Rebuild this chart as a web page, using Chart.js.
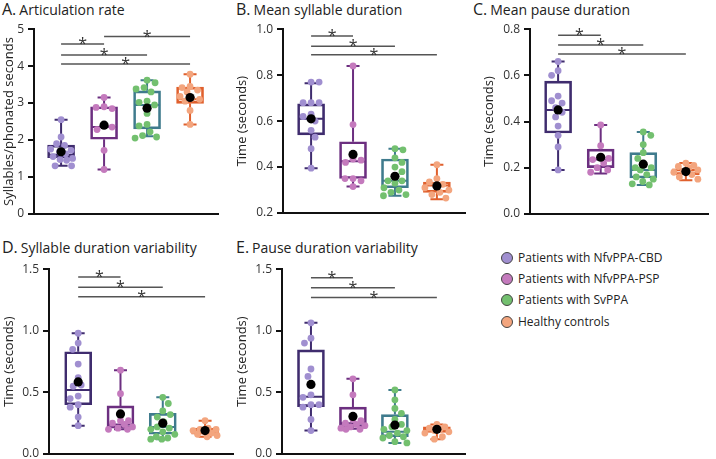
<!DOCTYPE html>
<html><head><meta charset="utf-8">
<script src="https://cdn.jsdelivr.net/npm/chart.js@4.4.1/dist/chart.umd.min.js"></script>
<style>
body{margin:0;background:#fff;}
#wrap{position:relative;width:716px;height:459px;overflow:hidden;font-family:'Open Sans',sans-serif;color:#222;}
canvas{position:absolute;}
.ttl{position:absolute;white-space:nowrap;font-size:14px;line-height:20px;}
.ttl .big{font-size:16px;margin-right:3px;}
.leg{position:absolute;left:501px;font-size:12px;line-height:16px;white-space:nowrap;}
.leg i{display:inline-block;width:10px;height:10px;border-radius:50%;border:1px solid #444;vertical-align:-2px;margin-right:5px;}
</style></head>
<body><div id="wrap">
<div class="ttl" style="left:2px;top:-1px"><span class="big">A.</span>Articulation rate</div>
<div class="ttl" style="left:236px;top:-1px"><span class="big">B.</span>Mean syllable duration</div>
<div class="ttl" style="left:473px;top:-1px"><span class="big">C.</span>Mean pause duration</div>
<div class="ttl" style="left:2px;top:237px"><span class="big">D.</span>Syllable duration variability</div>
<div class="ttl" style="left:236px;top:237px"><span class="big">E.</span>Pause duration variability</div>
<div id="legend"></div>
<canvas id="cA"></canvas><canvas id="cB"></canvas><canvas id="cC"></canvas><canvas id="cD"></canvas><canvas id="cE"></canvas>
</div>
<script>
// ---------- data ----------
const groupNames = ['Patients with NfvPPA-CBD','Patients with NfvPPA-PSP','Patients with SvPPA','Healthy controls'];
const pointColors = ['#a08fd0','#c47abd','#73c06f','#f3a57e'];
const boxColors = ['#3f2c6e','#6c2f80','#3f7b8d','#e0602d'];

// A. Articulation rate
const artPoints = [
  [2.55,2.08,1.9,1.85,1.75,1.72,1.68,1.62,1.55,1.5,1.47,1.45,1.3,1.3],
  [3.15,2.9,2.88,2.85,2.4,2.35,2.28,1.72,1.2],
  [3.62,3.55,3.42,3.38,3.3,3.05,3.02,2.95,2.72,2.42,2.38,2.22,2.12,2.08,2.05],
  [3.78,3.45,3.42,3.35,3.3,3.18,3.12,3.1,3.05,2.8,2.42]
];
const artStats = [[1.3,1.52,1.6,1.86,2.55],[1.2,2.02,2.35,2.9,3.15],[2.1,2.3,2.95,3.33,3.62],[2.42,2.99,3.1,3.43,3.78]];
const artMeans = [1.68,2.4,2.86,3.15];
const artSig = [[1,2,4.6],[2,4,4.8],[1,3,4.3],[1,4,4.06]];
const artTicks = [0,1,2,3,4,5];

// B. Mean syllable duration
const sylPoints = [
  [0.77,0.77,0.68,0.68,0.68,0.63,0.62,0.6,0.56,0.53,0.48,0.395],
  [0.84,0.585,0.435,0.43,0.42,0.35,0.35,0.34,0.315],
  [0.48,0.475,0.44,0.42,0.4,0.38,0.36,0.34,0.34,0.33,0.31,0.3,0.29,0.28,0.275],
  [0.41,0.35,0.335,0.325,0.32,0.31,0.3,0.29,0.28,0.265]
];
const sylStats = [[0.395,0.54,0.61,0.675,0.765],[0.315,0.35,0.425,0.51,0.84],[0.275,0.31,0.34,0.435,0.48],[0.26,0.29,0.32,0.335,0.41]];
const sylMeans = [0.61,0.455,0.36,0.318];
const sylSig = [[1,2,0.97],[1,3,0.926],[1,4,0.889]];
const sylTicks = [0.2,0.4,0.6,0.8,1.0];

// C. Mean pause duration
const pauPoints = [
  [0.66,0.62,0.6,0.51,0.49,0.48,0.46,0.44,0.42,0.38,0.34,0.29,0.19],
  [0.385,0.295,0.245,0.24,0.235,0.22,0.2,0.19,0.18],
  [0.355,0.34,0.3,0.265,0.24,0.21,0.2,0.2,0.19,0.17,0.16,0.15,0.14,0.13,0.125],
  [0.22,0.21,0.205,0.2,0.19,0.185,0.18,0.17,0.16,0.15]
];
const pauStats = [[0.19,0.35,0.45,0.575,0.66],[0.175,0.2,0.235,0.28,0.385],[0.125,0.155,0.19,0.265,0.355],[0.145,0.17,0.19,0.195,0.22]];
const pauMeans = [0.45,0.245,0.215,0.183];
const pauSig = [[1,2,0.774],[1,3,0.731],[1,4,0.693]];
const pauTicks = [0.0,0.2,0.4,0.6,0.8];

// D. Syllable duration variability
const svarPoints = [
  [0.98,0.9,0.85,0.73,0.62,0.56,0.55,0.47,0.45,0.4,0.38,0.3,0.23],
  [0.68,0.49,0.27,0.27,0.25,0.24,0.22,0.21,0.2,0.2],
  [0.46,0.41,0.35,0.32,0.3,0.26,0.22,0.21,0.2,0.18,0.16,0.14,0.13,0.12,0.12],
  [0.27,0.21,0.2,0.2,0.19,0.18,0.17,0.16,0.15,0.14]
];
const svarStats = [[0.23,0.4,0.52,0.83,0.98],[0.2,0.21,0.24,0.39,0.68],[0.12,0.16,0.22,0.33,0.46],[0.14,0.16,0.19,0.21,0.27]];
const svarMeans = [0.585,0.325,0.25,0.19];
const svarSig = [[1,2,1.437],[1,3,1.354],[1,4,1.276]];
const svarTicks = [0.0,0.5,1.0,1.5];

// E. Pause duration variability
const pvarPoints = [
  [1.065,0.94,0.9,0.69,0.63,0.48,0.46,0.4,0.4,0.38,0.28,0.19],
  [0.61,0.48,0.28,0.27,0.25,0.24,0.23,0.22,0.21,0.2,0.2],
  [0.52,0.44,0.37,0.33,0.28,0.24,0.22,0.2,0.19,0.17,0.15,0.14,0.13,0.1,0.09],
  [0.24,0.22,0.21,0.2,0.19,0.18,0.17,0.14,0.12]
];
const pvarStats = [[0.19,0.385,0.465,0.845,1.065],[0.205,0.22,0.25,0.38,0.61],[0.09,0.14,0.18,0.32,0.52],[0.12,0.175,0.2,0.22,0.24]];
const pvarMeans = [0.565,0.305,0.235,0.2];
const pvarSig = [[1,2,1.43],[1,3,1.35],[1,4,1.27]];
const pvarTicks = [0.0,0.5,1.0,1.5];

// ---------- layout ----------
const FONT = "'Open Sans', sans-serif";
const panels = [
  {id:'cA',left:0,top:18,w:226,h:207,axisW:34,pad:{top:10,right:8,bottom:10,left:0},xMin:0.37,xMax:4.65,yMin:0,yMax:5,ticks:artTicks,dec:0,yTitle:'Syllables/phonated seconds',points:artPoints,stats:artStats,means:artMeans,sig:artSig},
  {id:'cB',left:233,top:18,w:240,h:207,axisW:50,pad:{top:10,right:8,bottom:12,left:0},xMin:0.33,xMax:4.67,yMin:0.2,yMax:1.0,ticks:sylTicks,dec:1,yTitle:'Time (seconds)',points:sylPoints,stats:sylStats,means:sylMeans,sig:sylSig},
  {id:'cC',left:480,top:18,w:236,h:207,axisW:50,pad:{top:10,right:8,bottom:10,left:0},xMin:0.34,xMax:4.52,yMin:0,yMax:0.8,ticks:pauTicks,dec:1,yTitle:'Time (seconds)',points:pauPoints,stats:pauStats,means:pauMeans,sig:pauSig},
  {id:'cD',left:0,top:258,w:240,h:210,axisW:49,pad:{top:10,right:7,bottom:14,left:0},xMin:0.31,xMax:4.66,yMin:0,yMax:1.5,ticks:svarTicks,dec:1,yTitle:'Time (seconds)',points:svarPoints,stats:svarStats,means:svarMeans,sig:svarSig},
  {id:'cE',left:233,top:258,w:240,h:210,axisW:49,pad:{top:10,right:8,bottom:14,left:0},xMin:0.31,xMax:4.67,yMin:0,yMax:1.5,ticks:pvarTicks,dec:1,yTitle:'Time (seconds)',points:pvarPoints,stats:pvarStats,means:pvarMeans,sig:pvarSig}
];

// deterministic beeswarm placement, limited to the box width
function swarm(values, group, pxPerY, pxPerX, minDist, limit){
  const placed = [], out = [];
  const sorted = values.slice().sort((a,b)=>b-a);
  sorted.forEach((v,n)=>{
    const cands = [0];
    for(let s=0.5; s<=limit; s+=0.5){ if(n%2){cands.push(s,-s);} else {cands.push(-s,s);} }
    let best = null, bestScore = -1, bestDx = 0;
    for(const dx of cands){
      let md = Infinity;
      placed.forEach(q=>{const a=dx-q.dx, b=(v-q.v)*pxPerY; md = Math.min(md, Math.sqrt(a*a+b*b));});
      if(md >= minDist){ best = dx; break; }
      if(md > bestScore){ bestScore = md; bestDx = dx; }
    }
    if(best===null) best = bestDx;
    placed.push({v,dx:best});
    out.push({x: group + best/pxPerX, y: v});
  });
  return out;
}

const boxPlugin = {
  id:'boxExtras',
  afterDatasetDraw(chart, args){
    const ds = chart.data.datasets[args.index];
    if(!ds.isBox) return;
    const ctx = chart.ctx, x = chart.scales.x, y = chart.scales.y;
    ds.stats.forEach((s,i)=>{
      const cx = x.getPixelForValue(i+1);
      const [lo,q1,md,q3,hi] = s.map(v=>y.getPixelForValue(v));
      ctx.save();
      ctx.strokeStyle = boxColors[i]; ctx.lineWidth = 2;
      ctx.beginPath();
      ctx.moveTo(cx,q3); ctx.lineTo(cx,hi);
      ctx.moveTo(cx,q1); ctx.lineTo(cx,lo);
      ctx.moveTo(cx-6.5,hi); ctx.lineTo(cx+6.5,hi);
      ctx.moveTo(cx-6.5,lo); ctx.lineTo(cx+6.5,lo);
      ctx.moveTo(cx-13,md); ctx.lineTo(cx+13,md);
      ctx.stroke();
      ctx.restore();
    });
  }
};

const sigPlugin = {
  id:'sig',
  afterDatasetsDraw(chart){
    const sig = chart.options.plugins.sig.pairs;
    const ctx = chart.ctx, x = chart.scales.x, y = chart.scales.y;
    ctx.save();
    sig.forEach(([a,b,v])=>{
      const x1 = x.getPixelForValue(a), x2 = x.getPixelForValue(b), yy = y.getPixelForValue(v);
      ctx.strokeStyle = '#555'; ctx.lineWidth = 1.5;
      ctx.beginPath(); ctx.moveTo(x1,yy); ctx.lineTo(x2,yy); ctx.stroke();
      ctx.fillStyle = '#333'; ctx.font = '16px ' + FONT; ctx.textAlign = 'center'; ctx.textBaseline = 'alphabetic';
      ctx.fillText('*', (x1+x2)/2, yy + 5);
    });
    ctx.restore();
  }
};

panels.forEach(p=>{
  const cv = document.getElementById(p.id);
  cv.width = p.w; cv.height = p.h;
  cv.style.left = p.left+'px'; cv.style.top = p.top+'px';
  const plotH = p.h - p.pad.top - p.pad.bottom;
  const plotW = p.w - p.axisW - p.pad.right;
  const pxPerY = plotH/(p.yMax-p.yMin), pxPerX = plotW/(p.xMax-p.xMin);
  const datasets = [];
  datasets.push({type:'scatter', data:p.means.map((m,i)=>({x:i+1,y:m})), pointRadius:4.6, pointBackgroundColor:'#000', pointBorderWidth:0, order:0, clip:false});
  p.points.forEach((vals,g)=>{
    datasets.push({type:'scatter', data:swarm(vals,g+1,pxPerY,pxPerX,8,12), pointRadius:3.4, pointBackgroundColor:pointColors[g], pointBorderWidth:0, order:1, clip:false});
  });
  datasets.push({type:'bar', isBox:true, stats:p.stats, data:p.stats.map((s,i)=>({x:i+1,y:[s[1],s[3]]})),
    backgroundColor:'rgba(255,255,255,0)', borderColor:boxColors, borderWidth:2, borderSkipped:false, barThickness:27, order:2, clip:false});
  new Chart(cv, {
    type:'scatter',
    data:{datasets},
    plugins:[boxPlugin, sigPlugin],
    options:{
      responsive:false, animation:false, events:[],
      layout:{padding:p.pad},
      plugins:{legend:{display:false}, tooltip:{enabled:false}, sig:{pairs:p.sig}},
      scales:{
        x:{type:'linear', min:p.xMin, max:p.xMax, offset:false,
           ticks:{display:false}, grid:{display:true, drawOnChartArea:false, drawTicks:false},
           border:{display:true, color:'#111', width:2}, afterFit:s=>{s.height=0;}},
        y:{type:'linear', min:p.yMin, max:p.yMax,
           afterBuildTicks:s=>{s.ticks = p.ticks.map(v=>({value:v}));},
           ticks:{font:{family:FONT,size:12}, color:'#333', padding:4, callback:v=>Number(v).toFixed(p.dec)},
           grid:{display:true, drawOnChartArea:false, drawTicks:true, tickLength:6, color:'#111', lineWidth:2},
           border:{display:true, color:'#111', width:2},
           title:{display:true, text:p.yTitle, font:{family:FONT,size:13}, color:'#222', padding:{top:1,bottom:0}},
           afterFit:s=>{s.width=p.axisW;}}
      }
    }
  });
});

// legend
const legTops = [250,271,292,314];
document.getElementById('legend').innerHTML = groupNames.map((n,i)=>
  `<div class="leg" style="top:${legTops[i]}px"><i style="background:${pointColors[i]}"></i>${n}</div>`).join('');
</script>
</body></html>
